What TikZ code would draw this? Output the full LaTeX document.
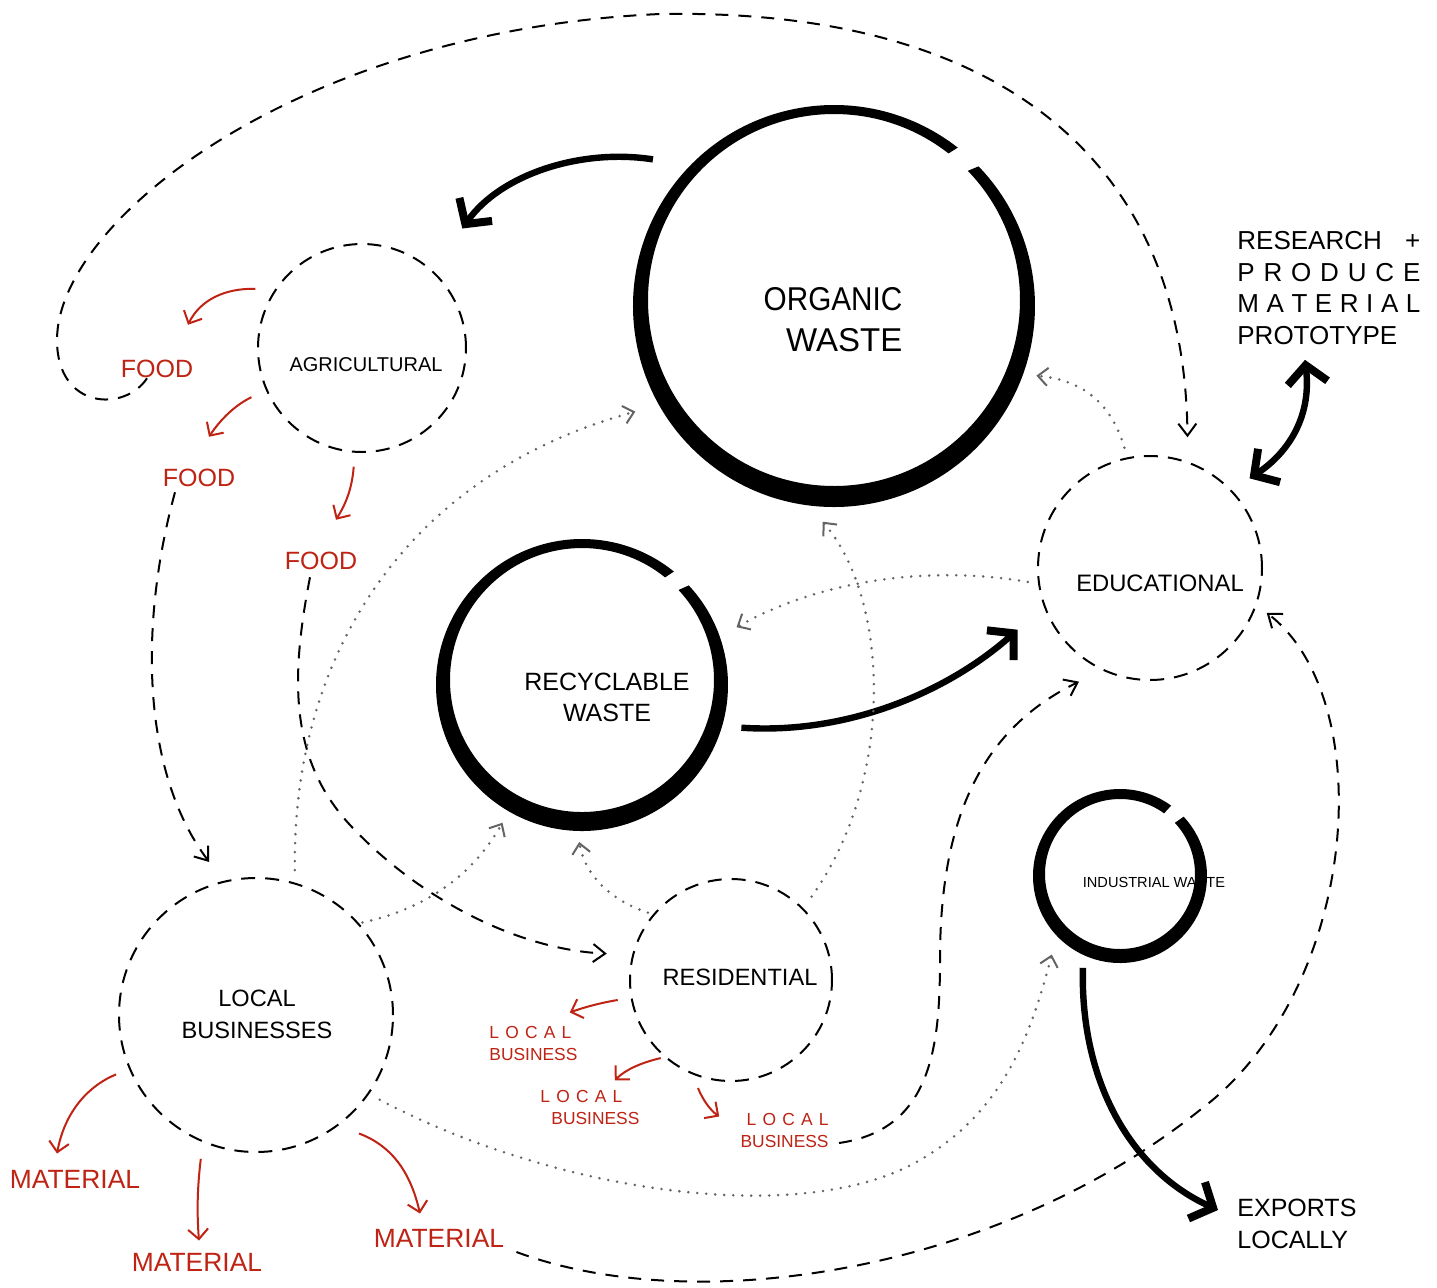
\documentclass[tikz,border=0pt]{standalone}
\usepackage{fontspec}
\setmainfont{Liberation Sans}
\usetikzlibrary{arrows.meta,calc}
\definecolor{foodred}{RGB}{190,35,20}
\definecolor{flowgray}{RGB}{100,100,100}
% brush ring: centre, outer radius, inner radius, inner shift, start angle, end angle
\newcommand{\brushring}[6]{%
  \fill ($(#1)+(#5:#2)$) arc[start angle=#5,end angle=#6,radius=#2]
    -- ($(#1)+(0,#4)+(#6:#3)$) arc[start angle=#6,end angle=#5,radius=#3] -- cycle;}
\newcommand{\spread}[2]{\makebox[#1][s]{#2}}

\begin{document}
\begin{tikzpicture}[x=0.5pt,y=0.5pt,
 brushtip/.tip={Straight Barb[length=9pt,width=20pt,line width=4pt]},
 ring/.style={circle,minimum size=#1,inner sep=0pt,outer sep=0pt},
 dring/.style={circle,draw,line width=1pt,dash pattern=on 7pt off 5pt,minimum size=#1,inner sep=0pt},
 lab/.style={inner sep=0pt,align=center},
 redlab/.style={lab,text=foodred,font=\fontsize{12.5}{15}\selectfont},
 brush/.style={line width=3.2pt,-brushtip},
 flow/.style={line width=1pt,dash pattern=on 6.5pt off 5pt,-{Straight Barb[length=6pt,width=9pt]}},
 hint/.style={flowgray,line width=1.4pt,line cap=round,dash pattern=on 0pt off 4.5pt,-{Straight Barb[length=5pt,width=9pt,line width=1pt]}},
 yield/.style={foodred,line width=1pt,-{Straight Barb[length=5pt,width=10pt]}}]
\path[use as bounding box,fill=white] (0,0) rectangle (1437,-1287);

% waste streams and sectors
\node[ring=201pt] (organic) at (834,-306) {};
\node[ring=146pt] (recy) at (582,-685) {};
\node[ring=87pt] (ind) at (1120,-876) {};
\node[dring=104pt] (agri) at (362,-348) {};
\node[dring=112pt] (edu) at (1150,-568) {};
\node[dring=101pt] (res) at (731,-980) {};
\node[dring=137pt] (local) at (256,-1015) {};

\node[lab,align=right,font=\fontsize{16.5}{20.5}\selectfont] (organictext) at (833,-320) {\scalebox{0.9}[1]{ORGANIC}\\WASTE};
\node[lab,font=\fontsize{12.5}{15.5}\selectfont] (recytext) at (607,-697) {RECYCLABLE\\WASTE};
\node[lab,font=\fontsize{7.3}{9}\selectfont] (indtext) at (1154,-882) {INDUSTRIAL WASTE};
\node[lab,font=\fontsize{10}{12}\selectfont] (agritext) at (366,-365) {AGRICULTURAL};
\node[lab,font=\fontsize{11.9}{14}\selectfont] (edutext) at (1160,-583) {EDUCATIONAL};
\node[lab,font=\fontsize{11.8}{14}\selectfont] (restext) at (740,-977) {RESIDENTIAL};
\node[lab,font=\fontsize{11.8}{16}\selectfont] (localtext) at (257,-1014) {LOCAL\\BUSINESSES};
\node[lab,anchor=west,align=left,font=\fontsize{13}{15.75}\selectfont] (research) at (1237,-288)
  {\spread{91.5pt}{RESEARCH +}\\\spread{91.5pt}{P R O D U C E}\\\spread{91.5pt}{M A T E R I A L}\\PROTOTYPE};
\node[lab,anchor=west,align=left,font=\fontsize{12.5}{16}\selectfont] (exports) at (1237,-1224) {EXPORTS\\LOCALLY};

\brushring{organic}{201}{186}{6}{52}{404}
\brushring{recy}{146}{132}{5}{51}{403}
\brushring{ind}{87}{75}{2}{54}{403}

% outputs
\node[redlab] (food1) at (157,-369) {FOOD};
\node[redlab] (food2) at (199,-478) {FOOD};
\node[redlab] (food3) at (321,-561) {FOOD};
\node[redlab,font=\fontsize{13.2}{16}\selectfont] (mat1) at (75,-1179) {MATERIAL};
\node[redlab,font=\fontsize{13.2}{16}\selectfont] (mat2) at (197,-1262) {MATERIAL};
\node[redlab,font=\fontsize{13.2}{16}\selectfont] (mat3) at (439,-1238) {MATERIAL};
\node[redlab,anchor=west,align=left,font=\fontsize{8.7}{11}\selectfont] (lb1) at (489,-1043) {\spread{41pt}{L O C A L}\\BUSINESS};
\node[redlab,anchor=west,align=left,font=\fontsize{8.7}{11}\selectfont] (lb2) at (540,-1107) {\spread{41pt}{L O C A L}\\\hspace*{5.5pt}BUSINESS};
\node[redlab,anchor=east,align=right,font=\fontsize{8.7}{11}\selectfont] (lb3) at (829,-1130) {\spread{41pt}{L O C A L}\\BUSINESS};

% main flows
\draw[brush] ($(organic)+(141:233)$) .. controls (580,-148) and (500,-175) .. ($(agri)+(50:156)$);
\draw[brush] ($(recy)+(-15:165)$) .. controls (850,-735) and (950,-690) .. ($(edu)+(205:146)$);
\draw[brush,brushtip-brushtip] ($(edu)+(42:134)$) .. controls (1285,-455) and (1312,-420) .. ($(research.south west)+(68,-15)$);
\draw[brush] ($(ind)+(248:99)$) .. controls (1080,-1080) and (1130,-1170) .. ($(exports.west)+(-19,14)$);

\draw[flow] ($(food1.south)+(-10,0)$) .. controls (125,-412) and (57,-410) .. (57,-340)
  .. controls (57,-220) and (300,-30) .. (660,-14)
  .. controls (1000,-8) and (1185,-160) .. ($(edu)+(74:136)$);
\draw[flow] ($(food2.south)+(-24,-5)$) .. controls (140,-620) and (140,-770) .. ($(local)+(107:160)$);
\draw[flow] ($(food3.south)+(-11,-7)$) .. controls (290,-680) and (290,-760) .. (350,-825)
  .. controls (420,-900) and (520,-950) .. ($(res)+(168:127)$);
\draw[flow] ($(lb3.east)+(10,-13)$) .. controls (930,-1130) and (940,-1050) .. (940,-960)
  .. controls (940,-820) and (980,-730) .. ($(edu)+(238:134)$);
\draw[flow] ($(mat3.east)+(12,-14)$) .. controls (700,-1320) and (1000,-1270) .. (1200,-1110)
  .. controls (1360,-990) and (1380,-700) .. ($(edu)+(-21:125)$);

% secondary flows
\draw[hint] ($(local)+(75:150)$) .. controls (292,-640) and (420,-470) .. ($(organic)+(208:225)$);
\draw[hint] ($(local)+(41:141)$) .. controls (420,-910) and (470,-880) .. ($(recy)+(240:159)$);
\draw[hint] ($(res)+(141:107)$) .. controls (610,-900) and (585,-875) .. ($(recy)+(269:157)$);
\draw[hint] ($(res)+(46:116)$) .. controls (895,-780) and (890,-600) .. ($(organic)+(267:216)$);
\draw[hint] ($(edu)+(186.5:123)$) .. controls (930,-565) and (820,-580) .. ($(recy)+(20.5:165)$);
\draw[hint] ($(edu)+(102:123)$) .. controls (1110,-400) and (1080,-380) .. ($(organic)+(341:214)$);
\draw[hint] ($(local)+(-34.4:150)$) .. controls (550,-1190) and (800,-1230) .. (920,-1160)
  .. controls (1000,-1114) and (1030,-1040) .. ($(ind)+(229:104)$);

% products
\draw[yield] ($(agri)+(151:122)$) .. controls (225,-288) and (200,-300) .. ($(food1.north)+(31,35)$);
\draw[yield] ($(agri)+(204:121)$) .. controls (235,-405) and (220,-420) .. ($(food2.north)+(10,32)$);
\draw[yield] ($(agri)+(266:119)$) .. controls (352,-490) and (345,-505) .. ($(food3.north)+(15,32)$);
\draw[yield] ($(local)+(203:152)$) .. controls (90,-1085) and (65,-1110) .. ($(mat1.north)+(-18,16)$);
\draw[yield] ($(local)+(249:154)$) .. controls (197,-1190) and (197,-1215) .. ($(mat2.north)+(2,12)$);
\draw[yield] ($(local)+(311:157)$) .. controls (390,-1145) and (410,-1170) .. ($(mat3.north)+(-19,15)$);
\draw[yield] ($(res)+(190:115)$) .. controls (600,-1003) and (585,-1007) .. ($(lb1.north east)+(-8,13)$);
\draw[yield] ($(res)+(228:105)$) .. controls (640,-1063) and (625,-1070) .. ($(lb2.north east)+(-25,9)$);
\draw[yield] ($(res)+(253:113)$) .. controls (703,-1100) and (710,-1110) .. ($(lb3.north west)+(-21,-4)$);
\end{tikzpicture}
\end{document}
